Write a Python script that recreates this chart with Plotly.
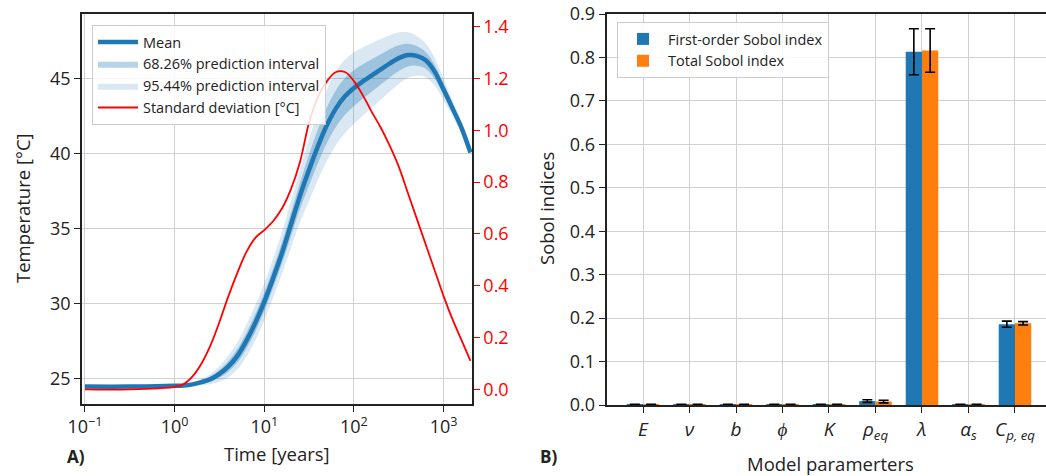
import plotly.graph_objects as go

# ---------------- Data (panel A) ----------------
time_years = [0.1, 0.316, 1.0, 1.259, 1.585, 1.995, 2.512, 3.162, 3.981, 5.012, 6.310, 7.943,
              10.0, 12.59, 15.85, 19.95, 25.12, 31.62, 39.81, 50.12, 63.10, 79.43,
              100.0, 125.9, 158.5, 199.5, 251.2, 316.2, 398.1, 501.2, 631.0, 794.3,
              1000.0, 1259.0, 1585.0, 1995.0]
mean_temp = [24.45, 24.45, 24.5, 24.52, 24.6, 24.75, 24.95, 25.3, 25.8, 26.5, 27.5, 28.7,
             30.1, 31.7, 33.4, 35.3, 37.2, 38.9, 40.5, 41.9, 43.0, 43.8,
             44.35, 44.8, 45.2, 45.6, 46.0, 46.35, 46.55, 46.5, 46.2, 45.45,
             44.25, 43.0, 41.7, 40.05]
std_temp = [0.0, 0.0, 0.01, 0.02, 0.05, 0.10, 0.17, 0.26, 0.36, 0.45, 0.53, 0.585,
            0.615, 0.65, 0.70, 0.775, 0.88, 1.03, 1.13, 1.19, 1.225, 1.225,
            1.19, 1.135, 1.07, 1.01, 0.94, 0.86, 0.76, 0.66, 0.56, 0.46,
            0.36, 0.27, 0.19, 0.11]

# ---------------- Data (panel B) ----------------
param_labels = ["<i>E</i>", "<i>ν</i>", "<i>b</i>", "<i>ϕ</i>", "<i>K</i>",
                "<i>ρ</i><sub><i>eq</i></sub>", "<i>λ</i>",
                "<i>α</i><sub><i>s</i></sub>", "<i>C</i><sub><i>p, eq</i></sub>"]
first_order = [0.001, 0.001, 0.001, 0.001, 0.001, 0.009, 0.813, 0.001, 0.186]
first_err = [0.0008, 0.0008, 0.0008, 0.0008, 0.0008, 0.003, 0.053, 0.0008, 0.007]
total_order = [0.001, 0.001, 0.001, 0.001, 0.001, 0.008, 0.816, 0.001, 0.188]
total_err = [0.0008, 0.0008, 0.0008, 0.0008, 0.0008, 0.003, 0.050, 0.0008, 0.004]

upper1 = [m + s for m, s in zip(mean_temp, std_temp)]
lower1 = [m - s for m, s in zip(mean_temp, std_temp)]
upper2 = [m + 2 * s for m, s in zip(mean_temp, std_temp)]
lower2 = [m - 2 * s for m, s in zip(mean_temp, std_temp)]

BLUE = "#1f77b4"
ORANGE = "#ff7f0e"
FONT = "Open Sans"
GRID = "#d0d0d0"
AX = "#222222"

W, H = 1046, 476
def px_x(p): return p / W
def px_y(p): return 1 - p / H

fig = go.Figure()

# 95% band
fig.add_trace(go.Scatter(x=time_years, y=lower2, mode="lines", line=dict(width=0, shape="spline"),
                         showlegend=False, hoverinfo="skip", xaxis="x", yaxis="y"))
fig.add_trace(go.Scatter(x=time_years, y=upper2, mode="lines", line=dict(width=0, shape="spline"),
                         fill="tonexty", fillcolor="rgba(31,119,180,0.17)",
                         name="95.44% prediction interval", legend="legend", legendrank=3,
                         legendgroup="g3", xaxis="x", yaxis="y"))
# 68% band
fig.add_trace(go.Scatter(x=time_years, y=lower1, mode="lines", line=dict(width=0, shape="spline"),
                         showlegend=False, hoverinfo="skip", xaxis="x", yaxis="y"))
fig.add_trace(go.Scatter(x=time_years, y=upper1, mode="lines", line=dict(width=0, shape="spline"),
                         fill="tonexty", fillcolor="rgba(31,119,180,0.32)",
                         name="68.26% prediction interval", legend="legend", legendrank=2,
                         legendgroup="g2", xaxis="x", yaxis="y"))
# mean
fig.add_trace(go.Scatter(x=time_years, y=mean_temp, mode="lines",
                         line=dict(color=BLUE, width=4.5, shape="spline"),
                         name="Mean", legend="legend", legendrank=1, legendgroup="g1",
                         xaxis="x", yaxis="y"))
# std dev on secondary axis
fig.add_trace(go.Scatter(x=time_years, y=std_temp, mode="lines",
                         line=dict(color="#ff0000", width=1.8, shape="spline"),
                         name="Standard deviation [°C]", legend="legend", legendrank=4,
                         legendgroup="g4", xaxis="x", yaxis="y3"))

# Panel B bars
xs = list(range(len(param_labels)))
fig.add_trace(go.Bar(x=xs, y=first_order, name="First-order Sobol index", marker_color=BLUE,
                     marker_line_width=0, legendgroup="b1",
                     error_y=dict(type="data", array=first_err, color="black", thickness=1.6, width=5),
                     xaxis="x2", yaxis="y2", legend="legend2"))
fig.add_trace(go.Bar(x=xs, y=total_order, name="Total Sobol index", marker_color=ORANGE,
                     marker_line_width=0, legendgroup="b2",
                     error_y=dict(type="data", array=total_err, color="black", thickness=1.6, width=5),
                     xaxis="x2", yaxis="y2", legend="legend2"))

TICK = 18
tickfont = dict(family=FONT, size=TICK, color="#222")

fig.update_layout(
    width=W, height=H, margin=dict(l=0, r=0, t=0, b=0, autoexpand=False),
    paper_bgcolor="white", plot_bgcolor="white",
    font=dict(family=FONT, size=14, color="#222"),
    barmode="group", bargap=0.3, bargroupgap=0.0,
    xaxis=dict(domain=[px_x(82), px_x(472)], type="log", range=[-1.033, 3.317],
               tickvals=[0.1, 1, 10, 100, 1000],
               ticktext=["10<sup>−1</sup>", "10<sup>0</sup>", "10<sup>1</sup>", "10<sup>2</sup>", "10<sup>3</sup>"],
               showgrid=True, gridcolor=GRID, gridwidth=1, zeroline=False, automargin=False,
               showline=True, linecolor=AX, linewidth=1.5, mirror=True,
               ticks="outside", ticklen=6, tickcolor=AX, tickfont=tickfont, anchor="y"),
    yaxis=dict(domain=[px_y(404), px_y(14)], range=[23.29, 49.29],
               tickvals=[25, 30, 35, 40, 45], automargin=False,
               showgrid=True, gridcolor=GRID, gridwidth=1, zeroline=False,
               showline=True, linecolor=AX, linewidth=1.5,
               ticks="outside", ticklen=6, tickcolor=AX, tickfont=tickfont, anchor="x"),
    yaxis3=dict(overlaying="y", side="right", anchor="x", range=[-0.0565, 1.449],
                tickvals=[0, 0.2, 0.4, 0.6, 0.8, 1.0, 1.2, 1.4], tickformat=".1f",
                showgrid=False, zeroline=False, automargin=False,
                showline=True, linecolor=AX, linewidth=1.5,
                ticks="outside", ticklen=6, tickcolor="#ff0000",
                tickfont=dict(family=FONT, size=TICK, color="#ff0000")),
    xaxis2=dict(domain=[px_x(606.5), 1.0], range=[-0.785, 8.667],
                tickvals=xs, ticktext=param_labels, automargin=False,
                showgrid=True, gridcolor=GRID, gridwidth=1, zeroline=False,
                showline=True, linecolor=AX, linewidth=1.5, mirror=True,
                ticks="outside", ticklen=6, tickcolor=AX,
                tickfont=dict(family=FONT, size=19, color="#222"), anchor="y2"),
    yaxis2=dict(domain=[px_y(405), px_y(14)], range=[0, 0.9], automargin=False,
                tickvals=[0, 0.1, 0.2, 0.3, 0.4, 0.5, 0.6, 0.7, 0.8, 0.9], tickformat=".1f",
                showgrid=True, gridcolor=GRID, gridwidth=1, zeroline=False,
                showline=True, linecolor=AX, linewidth=1.5,
                ticks="outside", ticklen=6, tickcolor=AX, tickfont=tickfont, anchor="x2"),
    legend=dict(x=px_x(92), y=px_y(25), xanchor="left", yanchor="top", traceorder="normal",
                bgcolor="rgba(255,255,255,0.85)", bordercolor="#cccccc", borderwidth=1,
                itemwidth=40,
                font=dict(family=FONT, size=14.5, color="#222"), tracegroupgap=2),
    legend2=dict(x=px_x(617), y=px_y(22), xanchor="left", yanchor="top", traceorder="normal",
                 bgcolor="rgba(255,255,255,0.85)", bordercolor="#cccccc", borderwidth=1,
                 itemwidth=40,
                 font=dict(family=FONT, size=14.5, color="#222"), tracegroupgap=2),
    showlegend=True,
)

TITLE = 18.5
ann = [
    dict(text="Temperature [°C]", x=px_x(22), y=px_y(208), textangle=-90, font=dict(size=TITLE)),
    dict(text="Time [years]", x=px_x(277), y=px_y(453), font=dict(size=TITLE)),
    dict(text="Sobol indices", x=px_x(546), y=px_y(209), textangle=-90, font=dict(size=TITLE)),
    dict(text="Model paramerters", x=px_x(830), y=px_y(463), font=dict(size=TITLE)),
    dict(text="<b>A)</b>", x=px_x(76), y=px_y(456), font=dict(size=17)),
    dict(text="<b>B)</b>", x=px_x(548), y=px_y(456), font=dict(size=17)),
]
for a in ann:
    a.update(xref="paper", yref="paper", showarrow=False, xanchor="center", yanchor="middle")
    a["font"] = dict(family=FONT, color="#222", **a["font"])
fig.update_layout(annotations=ann)

fig.write_html("out.html", config={"displayModeBar": False},
               post_script="document.body.style.margin='0px';document.body.style.padding='0px';")
